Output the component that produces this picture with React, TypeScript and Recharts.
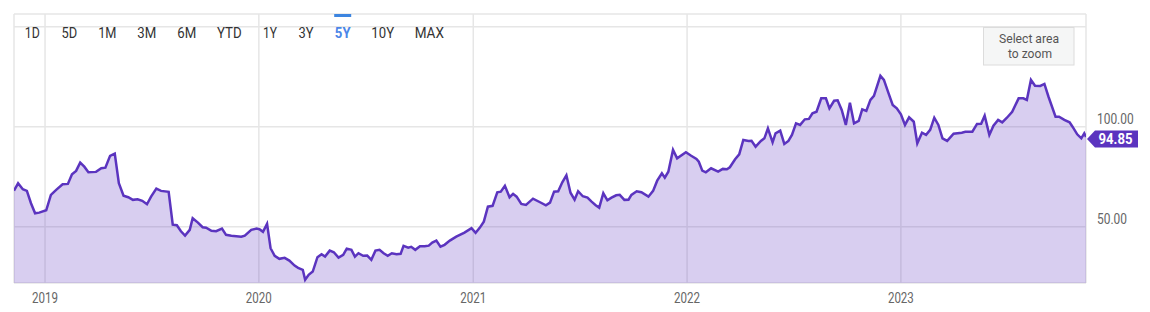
import React from "react";
import { AreaChart, Area, XAxis, YAxis, CartesianGrid, ReferenceLine } from "recharts";

const dates: string[] = [
  "2018-11-09","2018-11-16","2018-11-24","2018-12-01","2018-12-08","2018-12-15","2018-12-22",
  "2019-01-03","2019-01-11","2019-01-20","2019-01-31","2019-02-09","2019-02-16","2019-02-23","2019-03-02","2019-03-09","2019-03-16","2019-03-29",
  "2019-04-07","2019-04-14","2019-04-22","2019-04-30","2019-05-07","2019-05-15","2019-05-23","2019-05-31","2019-06-08","2019-06-16","2019-06-24",
  "2019-07-01","2019-07-10","2019-07-18","2019-07-31","2019-08-07","2019-08-14","2019-08-21","2019-08-28","2019-09-05","2019-09-10","2019-09-19",
  "2019-09-27","2019-10-03","2019-10-12","2019-10-20","2019-10-30","2019-11-06","2019-11-15","2019-12-02","2019-12-08","2019-12-19","2019-12-28",
  "2020-01-02","2020-01-08","2020-01-15","2020-01-21","2020-01-28","2020-02-05","2020-02-14","2020-02-22","2020-03-02","2020-03-08","2020-03-16",
  "2020-03-20","2020-03-26","2020-04-02","2020-04-10","2020-04-17","2020-04-23","2020-05-01","2020-05-08","2020-05-16","2020-05-24","2020-05-30",
  "2020-06-07","2020-06-13","2020-06-19","2020-06-27","2020-07-04","2020-07-11","2020-07-18","2020-07-25","2020-08-01","2020-08-08","2020-08-15",
  "2020-08-23","2020-08-30","2020-09-04","2020-09-12","2020-09-17","2020-09-24","2020-10-02","2020-10-10","2020-10-17","2020-10-23","2020-10-30",
  "2020-11-06","2020-11-13","2020-11-22","2020-12-03","2020-12-17","2020-12-29",
  "2021-01-05","2021-01-12","2021-01-19","2021-01-26","2021-02-03","2021-02-11","2021-02-17","2021-02-24","2021-03-04","2021-03-10","2021-03-16",
  "2021-03-24","2021-04-01","2021-04-13","2021-04-25","2021-05-05","2021-05-12","2021-05-19","2021-05-26","2021-06-02","2021-06-09","2021-06-16",
  "2021-06-23","2021-06-29","2021-07-07","2021-07-15","2021-07-22","2021-07-29","2021-08-04","2021-08-11","2021-08-18","2021-08-25","2021-09-02",
  "2021-09-08","2021-09-16","2021-09-23","2021-09-28","2021-10-07","2021-10-15","2021-10-27","2021-11-04","2021-11-11","2021-11-19","2021-11-24",
  "2021-11-30","2021-12-08","2021-12-15","2021-12-30",
  "2022-01-08","2022-01-17","2022-01-21","2022-01-27","2022-02-02","2022-02-11","2022-02-23","2022-03-03","2022-03-10","2022-03-15","2022-03-24",
  "2022-03-31","2022-04-07","2022-04-16","2022-04-21","2022-04-28","2022-05-07","2022-05-13","2022-05-19","2022-05-27","2022-06-01","2022-06-09",
  "2022-06-16","2022-06-23","2022-06-29","2022-07-06","2022-07-13","2022-07-21","2022-07-28","2022-08-03","2022-08-10","2022-08-18","2022-08-26",
  "2022-09-01","2022-09-09","2022-09-15","2022-09-22","2022-09-29","2022-10-06","2022-10-13","2022-10-21","2022-10-27","2022-11-03","2022-11-10",
  "2022-11-16","2022-11-27","2022-12-03","2022-12-11","2022-12-18","2022-12-25",
  "2023-01-01","2023-01-08","2023-01-15","2023-01-23","2023-01-29","2023-02-06","2023-02-13","2023-02-20","2023-02-27","2023-03-06","2023-03-13",
  "2023-03-21","2023-04-01","2023-04-15","2023-04-21","2023-05-03","2023-05-11","2023-05-18","2023-05-24","2023-06-01","2023-06-08","2023-06-16",
  "2023-06-23","2023-07-01","2023-07-10","2023-07-21","2023-07-29","2023-08-04","2023-08-11","2023-08-18","2023-08-27","2023-09-03","2023-09-10",
  "2023-09-22","2023-09-28","2023-10-07","2023-10-16","2023-10-21","2023-10-29","2023-11-05","2023-11-10","2023-11-13",
];

const prices: number[] = [
  68.0, 71.7, 68.7, 67.9, 61.7, 56.7, 57.0,
  58.2, 65.9, 68.4, 71.2, 71.4, 76.2, 77.9, 82.0, 80.0, 77.2, 77.4,
  79.2, 79.5, 85.4, 86.5, 71.7, 65.5, 64.7, 63.4, 63.7, 62.9, 61.2,
  65.0, 69.0, 67.9, 67.4, 51.0, 50.7, 47.7, 45.5, 48.4, 54.2, 52.0,
  49.7, 49.5, 47.9, 47.7, 49.0, 45.9, 45.4, 45.0, 45.5, 48.4, 49.0,
  48.7, 47.4, 51.4, 39.2, 35.4, 33.9, 34.4, 33.0, 30.5, 29.4, 28.4,
  23.4, 25.9, 27.5, 34.7, 36.2, 35.0, 38.0, 37.2, 34.5, 35.9, 39.0,
  38.4, 35.0, 36.7, 35.4, 35.5, 33.4, 38.0, 38.4, 36.7, 35.4, 36.7,
  36.2, 36.4, 40.4, 39.5, 39.9, 38.4, 40.2, 40.2, 40.5, 42.0, 43.0,
  40.0, 40.9, 43.0, 45.0, 47.0, 49.2,
  46.9, 49.4, 52.5, 60.0, 60.4, 67.2, 67.5, 70.4, 64.7, 66.4, 65.0,
  61.4, 60.9, 64.0, 62.2, 60.7, 62.0, 67.5, 67.7, 72.2, 75.7, 67.0,
  63.5, 67.7, 65.2, 64.5, 62.5, 60.7, 59.5, 66.7, 63.2, 64.5, 65.7,
  65.9, 63.4, 63.5, 65.9, 67.7, 67.2, 65.0, 67.9, 73.0, 76.7, 74.5,
  77.5, 88.4, 84.2, 87.2,
  85.5, 83.9, 82.5, 78.0, 77.2, 79.2, 77.5, 78.9, 78.7, 79.7, 83.7,
  86.2, 93.4, 92.9, 93.0, 90.0, 92.9, 94.2, 99.2, 92.2, 96.7, 98.0,
  91.4, 92.9, 95.9, 101.7, 100.9, 103.7, 103.9, 106.7, 107.5, 114.2, 114.2,
  109.2, 113.0, 113.2, 108.4, 100.9, 112.0, 101.7, 102.9, 108.7, 107.9, 113.4,
  115.4, 125.5, 123.4, 116.7, 110.9, 109.2,
  106.2, 100.9, 104.7, 102.5, 91.7, 97.0, 95.9, 98.4, 104.5, 100.9, 94.2,
  92.9, 96.5, 97.0, 97.5, 97.5, 101.4, 101.5, 105.5, 95.9, 100.5, 103.4,
  102.2, 104.5, 107.5, 114.2, 114.2, 113.4, 123.4, 120.5, 120.4, 121.4, 115.0,
  105.0, 105.0, 103.4, 102.2, 100.0, 96.2, 94.2, 96.7, 94.85,
];

const rangeStart = "2018-11-09";
const rangeEnd = "2023-11-13";
const yearTickDates: string[] = ["2019-01-01", "2020-01-01", "2021-01-01", "2022-01-01", "2023-01-01"];
const yearTickLabels: string[] = ["2019", "2020", "2021", "2022", "2023"];
const yMin = 21.8;
const yMax = 156.4;
const yGridValues: number[] = [50, 100, 150];
const yLabelValues: number[] = [50, 100];
const rangeButtons: string[] = ["1D", "5D", "1M", "3M", "6M", "YTD", "1Y", "3Y", "5Y", "10Y", "MAX"];
const activeRange = "5Y";

const toTs = (d: string) => Date.parse(d + "T00:00:00Z");
const data = dates.map((d, i) => ({ t: toTs(d), v: prices[i] }));
const startTs = toTs(rangeStart);
const endTs = toTs(rangeEnd);
const yearTs = yearTickDates.map(toTs);
const lastPrice = prices[prices.length - 1];

const LINE = "#5b34bf";
const GRID = "#e6e6e6";
const FONT = "Roboto, 'Noto Sans', sans-serif";

// layout of the toolbar (not data)
const btnX = [32.3, 69.3, 107.3, 146.7, 186.7, 229.3, 270, 306, 342.7, 382.7, 429.3];
const btnW = [15, 15.7, 18.3, 19, 19, 24.7, 14, 15, 15.7, 22.7, 29.3];

const YearTick = (props: any) => {
  const { x, y, payload } = props;
  const idx = yearTs.indexOf(payload.value);
  if (idx < 0) return null;
  return (
    <text x={x} y={y + 12} textAnchor="middle" fontFamily={FONT} fontSize={14.5} fill="#666"
      textLength={26} lengthAdjust="spacingAndGlyphs">
      {yearTickLabels[idx]}
    </text>
  );
};

const PriceTick = (props: any) => {
  const { x, y, payload } = props;
  if (!yLabelValues.includes(payload.value)) return null;
  const label = payload.value.toFixed(2);
  return (
    <text x={x} y={y - 3} textAnchor="start" fontFamily={FONT} fontSize={14} fill="#666"
      textLength={label.length === 6 ? 36.7 : 30} lengthAdjust="spacingAndGlyphs">
      {label}
    </text>
  );
};

const Badge = (props: any) => {
  const vb = props.viewBox || {};
  const tipX = (vb.x || 0) + (vb.width || 0) + 1;
  const cy = (vb.y || 0) + 2;
  const h = 8.5;
  const bx = tipX + 8;
  const ex = tipX + 51;
  const pts = `${tipX},${cy} ${bx},${cy - h} ${ex},${cy - h} ${ex},${cy + h} ${bx},${cy + h}`;
  return (
    <g>
      <polygon points={pts} fill={LINE} />
      <text x={(bx + ex) / 2 - 1} y={cy + 5} textAnchor="middle" fontFamily={FONT} fontWeight="bold"
        fontSize={14.5} fill="#fff" textLength={34} lengthAdjust="spacingAndGlyphs">
        {lastPrice.toFixed(2)}
      </text>
    </g>
  );
};

export default function App() {
  return (
    <div style={{ position: "absolute", left: 0, top: 0, width: 1150, height: 312, background: "#fff" }}>
      <AreaChart width={1150} height={312} data={data} margin={{ top: 14, right: 0, bottom: 0, left: 14 }}>
        <CartesianGrid stroke={GRID} strokeWidth={1.5} />
        <XAxis dataKey="t" type="number" domain={[startTs, endTs]} allowDataOverflow
          ticks={[startTs, ...yearTs, endTs]} interval={0} tickLine={false} axisLine={false}
          height={29} tick={<YearTick />} />
        <YAxis orientation="right" type="number" domain={[yMin, yMax]} allowDataOverflow
          ticks={[yMin, ...yGridValues, yMax]} interval={0} tickLine={false} axisLine={false}
          width={64} tickMargin={5} tick={<PriceTick />} />
        <Area type="linear" dataKey="v" stroke={LINE} strokeWidth={2.5} fill={LINE} fillOpacity={0.24}
          isAnimationActive={false} dot={false} activeDot={false} />
        <ReferenceLine y={lastPrice} stroke="none" label={(p: any) => <Badge {...p} />} />
      </AreaChart>
      <svg width={1150} height={312} style={{ position: "absolute", left: 0, top: 0, pointerEvents: "none" }}>
        {rangeButtons.map((b, i) => (
          <text key={b} x={btnX[i]} y={38} textAnchor="middle" fontFamily={FONT} fontSize={15}
            fontWeight={b === activeRange ? "bold" : "normal"}
            fill={b === activeRange ? "#4a86e8" : "#333"} textLength={btnW[i]} lengthAdjust="spacingAndGlyphs">
            {b}
          </text>
        ))}
        <rect x={btnX[8] - 8.5} y={14} width={17} height={3} fill="#3d85e0" />
        <rect x={983.5} y={27.5} width={90.5} height={37.5} fill="#f5f6f6" stroke="#dcdcdc" strokeWidth={1} />
        <text x={1029} y={43} textAnchor="middle" fontFamily={FONT} fontSize={13.5} fill="#555"
          textLength={60} lengthAdjust="spacingAndGlyphs">Select area</text>
        <text x={1030} y={58} textAnchor="middle" fontFamily={FONT} fontSize={13.5} fill="#555"
          textLength={44} lengthAdjust="spacingAndGlyphs">to zoom</text>
      </svg>
    </div>
  );
}
